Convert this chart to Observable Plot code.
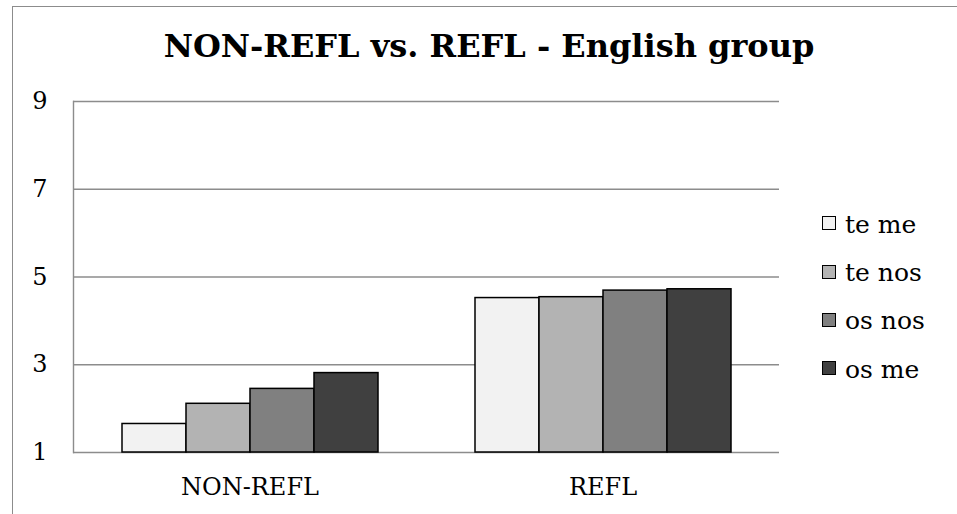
<!DOCTYPE html>
<html>
<head>
<meta charset="utf-8">
<script src="https://cdn.jsdelivr.net/npm/d3@7"></script>
<script src="https://cdn.jsdelivr.net/npm/@observablehq/plot@0.6"></script>
<style>
  html, body { margin: 0; padding: 0; background: #fff; }
  #wrap { position: relative; width: 957px; height: 514px; overflow: hidden; font-family: 'DejaVu Serif', 'Liberation Serif', serif; }
  #border { position: absolute; left: 12px; top: 6px; width: 2000px; height: 2000px; border-left: 1.5px solid #8c8c8c; border-top: 1.5px solid #8c8c8c; box-sizing: border-box; }
  #title { position: absolute; top: 30px; left: 489px; transform: translateX(-50%); white-space: nowrap; font-size: 32px; line-height: 32px; font-weight: bold; color: #000; }
  #chart { position: absolute; left: 0; top: 0; }
  #chart svg text { font-family: 'DejaVu Serif', 'Liberation Serif', serif; }
  .sw { position: absolute; width: 14px; height: 14px; border: 1.3px solid #000; box-sizing: border-box; }
  .lt { position: absolute; font-size: 25px; line-height: 25px; white-space: nowrap; color: #000; font-family: 'DejaVu Serif', 'Liberation Serif', serif; }
</style>
</head>
<body>
<div id="wrap">
  <div id="border"></div>
  <div id="chart"></div>
  <div id="title">NON-REFL vs. REFL - English group</div>
</div>
<script>
const groups = ["NON-REFL", "REFL"];
const series = ["te me", "te nos", "os nos", "os me"];
const nonReflValues = [1.65, 2.11, 2.45, 2.81];
const reflValues = [4.52, 4.54, 4.69, 4.72];
const colors = ["#f2f2f2", "#b3b3b3", "#808080", "#404040"];
const yTicks = [1, 3, 5, 7, 9];

const valuesByGroup = {"NON-REFL": nonReflValues, "REFL": reflValues};
const data = [];
for (const g of groups) {
  series.forEach((s, i) => data.push({group: g, series: s, value: valuesByGroup[g][i]}));
}

const chart = Plot.plot({
  width: 957,
  height: 514,
  marginLeft: 73,
  marginRight: 178,
  marginTop: 101,
  marginBottom: 62,
  style: {fontFamily: "'DejaVu Serif', 'Liberation Serif', serif", fontSize: "24px", color: "#000", background: "transparent"},
  fx: {domain: groups, paddingInner: 0, paddingOuter: 0, label: null, tickSize: 0, tickPadding: 25, fontSize: 26},
  x: {domain: series, paddingInner: 0, paddingOuter: 0.747, axis: null},
  y: {domain: [1, 9], ticks: yTicks, tickSize: 0, tickPadding: 26, label: null},
  color: {domain: series, range: colors},
  marks: [
    Plot.ruleY(yTicks, {stroke: "#8c8c8c", strokeWidth: 1.4}),
    Plot.frame({anchor: "left", fx: () => groups[0], stroke: "#8c8c8c", strokeWidth: 1.4}),
    Plot.barY(data, {fx: "group", x: "series", y1: 1, y2: "value", fill: "series", stroke: "#000", strokeWidth: 1.5})
  ]
});
document.getElementById("chart").appendChild(chart);

const wrap = document.getElementById("wrap");
series.forEach((s, i) => {
  const baseline = 232.7 + i * 48.3;
  const sw = document.createElement("div");
  sw.className = "sw";
  sw.style.left = "822px";
  sw.style.top = (baseline - 16.5) + "px";
  sw.style.background = colors[i];
  wrap.appendChild(sw);
  const t = document.createElement("div");
  t.className = "lt";
  t.style.left = "845px";
  t.style.top = (baseline - 21.1) + "px";
  t.textContent = s;
  wrap.appendChild(t);
});
</script>
</body>
</html>
